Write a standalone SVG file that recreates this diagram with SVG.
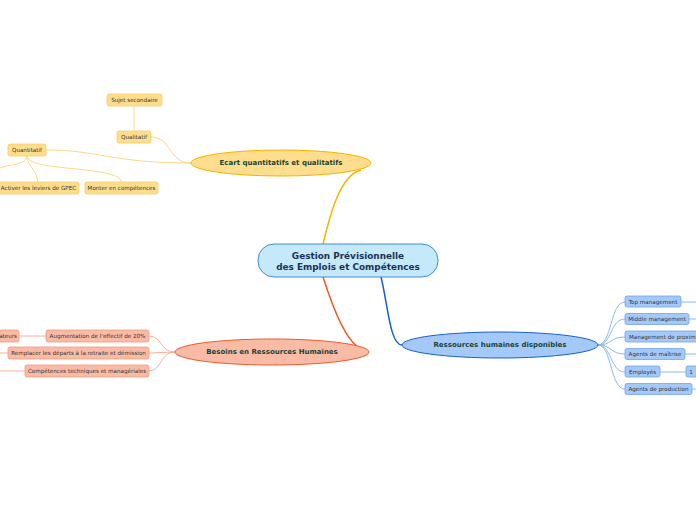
<svg xmlns="http://www.w3.org/2000/svg" width="696" height="520" viewBox="0 0 696 520">
<style>
text{font-family:"DejaVu Sans","Liberation Sans",sans-serif;text-anchor:middle;dominant-baseline:central}
.sub{font-size:5.6px;fill:#333}
.main{font-size:7px;font-weight:bold;fill:#17463a}
.ctr{font-size:8.9px;font-weight:bold;fill:#1a3354}
.y{fill:#fedd8c;stroke:#f8cd6a;stroke-width:0.8}
.o{fill:#f9bba6;stroke:#f39a7d;stroke-width:0.8}
.b{fill:#a4c9f8;stroke:#72a3ea;stroke-width:0.8}
.cy{fill:none;stroke:#fcd885;stroke-width:1}
.co{fill:none;stroke:#f8b29c;stroke-width:1}
.cb{fill:none;stroke:#8cb8f2;stroke-width:1}
</style>
<rect width="696" height="520" fill="#fff"/>
<g id="connectors">
<path d="M323,244 C330,215 340,175 361,170" fill="none" stroke="#f5b400" stroke-width="1.5"/>
<path d="M323,277 C332,305 345,338 357,346" fill="none" stroke="#f05a28" stroke-width="1.5"/>
<path d="M381,277 C388,305 390,345 402,345" fill="none" stroke="#1560d0" stroke-width="1.5"/>
<path class="cy" d="M151,137 C172,137 168,163 191,163"/>
<path class="cy" d="M46,150 C100,150 110,163 191,163"/>
<path class="cy" d="M134,106 L134,131"/>
<path class="cy" d="M27,156 C27,166 36,168 38,182"/>
<path class="cy" d="M27,156 C27,172 118,165 122,182"/>
<path class="cy" d="M27,156 C27,165 10,164 0,168"/>
<path class="co" d="M149,336 C162,336 160,352 175,352"/>
<path class="co" d="M149,353 L175,352"/>
<path class="co" d="M149,371 C162,371 160,352 175,352"/>
<path class="co" d="M46,336 L19,336"/>
<path class="co" d="M8,353 L0,353"/>
<path class="co" d="M25,371 L0,371"/>
<path class="cb" d="M598,345 C612,345 610,302 625,302"/>
<path class="cb" d="M598,345 C612,345 610,319 625,319"/>
<path class="cb" d="M598,345 C612,345 610,337 625,337"/>
<path class="cb" d="M598,345 C612,345 610,354 625,354"/>
<path class="cb" d="M598,345 C612,345 610,372 625,372"/>
<path class="cb" d="M598,345 C612,345 610,389 625,389"/>
<path class="cb" d="M681,302 L696,302"/>
<path class="cb" d="M689,319 L696,319"/>
<path class="cb" d="M685,354 L696,354"/>
<path class="cb" d="M660,372 L686,372"/>
<path class="cb" d="M692,389 L696,389"/>
</g>
<g id="center">
<rect x="258" y="244" width="180" height="33" rx="16" fill="#c5e8fb" stroke="#3a8fd8" stroke-width="1"/>
<text class="ctr" x="348" y="255.5">Gestion Prévisionnelle</text>
<text class="ctr" x="348" y="266.5">des Emplois et Compétences</text>
</g>
<g id="ecart">
<ellipse cx="281" cy="163" rx="90" ry="13" fill="#fedd8c" stroke="#f5b400" stroke-width="1"/>
<text class="main" x="281" y="163">Ecart quantitatifs et qualitatifs</text>
</g>
<g id="besoins">
<ellipse cx="272" cy="352" rx="97" ry="13" fill="#f9bba6" stroke="#f05a28" stroke-width="1"/>
<text class="main" x="272" y="352">Besoins en Ressources Humaines</text>
</g>
<g id="ressources">
<ellipse cx="500" cy="345" rx="98" ry="13" fill="#a4c9f8" stroke="#1560d0" stroke-width="1"/>
<text class="main" x="500" y="345">Ressources humaines disponibles</text>
</g>
<g id="sujet"><rect class="y" x="107" y="94" width="55" height="12" rx="2"/><text class="sub" x="134.5" y="100">Sujet secondaire</text></g>
<g id="qualitatif"><rect class="y" x="117" y="131" width="34" height="12" rx="2"/><text class="sub" x="134" y="137">Qualitatif</text></g>
<g id="quantitatif"><rect class="y" x="8" y="144" width="38" height="12" rx="2"/><text class="sub" x="27" y="150">Quantitatif</text></g>
<g id="activer"><rect class="y" x="-3" y="182" width="82" height="12" rx="2"/><text class="sub" x="38.5" y="188">Activer les leviers de GPEC</text></g>
<g id="monter"><rect class="y" x="85" y="182" width="73" height="12" rx="2"/><text class="sub" x="121.5" y="188">Monter en compétences</text></g>
<g id="augmentation"><rect class="o" x="46" y="330" width="103" height="12" rx="2"/><text class="sub" x="97.5" y="336">Augmentation de l'effectif de 20%</text></g>
<g id="ateurs"><rect class="o" x="-30" y="330" width="49" height="12" rx="2"/><text class="sub" x="17" y="336" style="text-anchor:end">ateurs</text></g>
<g id="remplacer"><rect class="o" x="8" y="347" width="141" height="12" rx="2"/><text class="sub" x="78.5" y="353">Remplacer les départs à la retraite et démission</text></g>
<g id="competences"><rect class="o" x="25" y="365" width="124" height="12" rx="2"/><text class="sub" x="87" y="371">Compétences techniques et managériales</text></g>
<g id="top"><rect class="b" x="625" y="296" width="56" height="11" rx="2"/><text class="sub" x="653" y="301.5">Top management</text></g>
<g id="middle"><rect class="b" x="625" y="313.5" width="64" height="11" rx="2"/><text class="sub" x="657" y="319">Middle management</text></g>
<g id="proximite"><rect class="b" x="625" y="331" width="80" height="11" rx="2"/><text class="sub" x="629" y="336.5" style="text-anchor:start">Management de proximité</text></g>
<g id="maitrise"><rect class="b" x="625" y="348.5" width="60" height="11" rx="2"/><text class="sub" x="655" y="354">Agents de maîtrise</text></g>
<g id="employes"><rect class="b" x="625" y="366" width="35" height="11" rx="2"/><text class="sub" x="642.5" y="371.5">Employés</text></g>
<g id="un"><rect class="b" x="686" y="366" width="14" height="11" rx="2"/><text class="sub" x="691" y="371.5">1</text></g>
<g id="production"><rect class="b" x="625" y="383.5" width="67" height="11" rx="2"/><text class="sub" x="658.5" y="389">Agents de production</text></g>
</svg>
